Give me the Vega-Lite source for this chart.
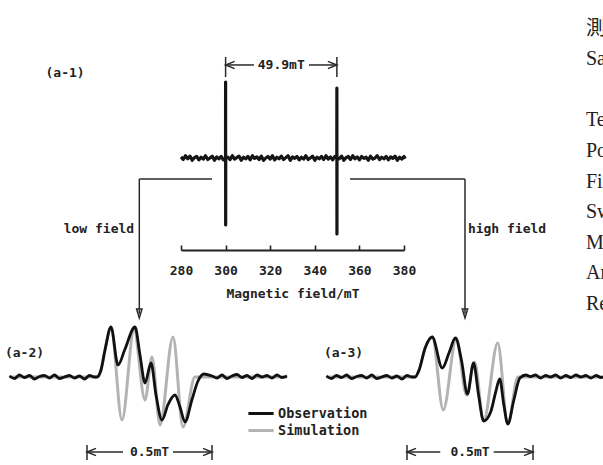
{
  "$schema": "https://vega.github.io/schema/vega-lite/v6.json",
  "width": 603,
  "height": 465,
  "autosize": {"type": "none"},
  "padding": 0,
  "background": "white",
  "config": {"view": {"stroke": null}},
  "datasets": {
    "top": [
      {"B":280,"I":1.5},{"B":281,"I":-2},{"B":282,"I":3},{"B":283,"I":-1},{"B":284,"I":2.5},{"B":285,"I":-3},{"B":286,"I":0.5},{"B":287,"I":2},{"B":288,"I":-2.5},{"B":289,"I":1},
      {"B":290,"I":-1.5},{"B":291,"I":3},{"B":292,"I":-2},{"B":293,"I":0},{"B":294,"I":2.5},{"B":295,"I":-3},{"B":296,"I":1.5},{"B":297,"I":-1},{"B":298,"I":2},{"B":299,"I":-2.5},
      {"B":299.97,"I":0},{"B":300,"I":100},{"B":300.03,"I":-88},{"B":300.06,"I":0},
      {"B":301,"I":1},{"B":302,"I":-2},{"B":303,"I":3},{"B":304,"I":-1.5},{"B":305,"I":0.5},{"B":306,"I":2.5},{"B":307,"I":-3},{"B":308,"I":1},{"B":309,"I":-1},{"B":310,"I":2},
      {"B":311,"I":-2.5},{"B":312,"I":3},{"B":313,"I":-0.5},{"B":314,"I":1.5},{"B":315,"I":-2},{"B":316,"I":2.5},{"B":317,"I":-3},{"B":318,"I":0},{"B":319,"I":2},{"B":320,"I":-1.5},
      {"B":321,"I":3},{"B":322,"I":-2.5},{"B":323,"I":1},{"B":324,"I":-1},{"B":325,"I":2.5},{"B":326,"I":-2},{"B":327,"I":0.5},{"B":328,"I":3},{"B":329,"I":-3},{"B":330,"I":1.5},
      {"B":331,"I":-0.5},{"B":332,"I":2},{"B":333,"I":-2.5},{"B":334,"I":1},{"B":335,"I":-1.5},{"B":336,"I":3},{"B":337,"I":-2},{"B":338,"I":0},{"B":339,"I":2.5},{"B":340,"I":-3},
      {"B":341,"I":1},{"B":342,"I":-1},{"B":343,"I":2},{"B":344,"I":-2},{"B":345,"I":3},{"B":346,"I":-1.5},{"B":347,"I":1.5},{"B":348,"I":-2.5},{"B":349,"I":2},
      {"B":349.87,"I":0},{"B":349.9,"I":92},{"B":349.93,"I":-100},{"B":349.96,"I":0},
      {"B":351,"I":-1},{"B":352,"I":2.5},{"B":353,"I":-3},{"B":354,"I":0.5},{"B":355,"I":2},{"B":356,"I":-2},{"B":357,"I":3},{"B":358,"I":-1},{"B":359,"I":1.5},{"B":360,"I":-2.5},
      {"B":361,"I":2},{"B":362,"I":-0.5},{"B":363,"I":1},{"B":364,"I":-3},{"B":365,"I":2.5},{"B":366,"I":-1.5},{"B":367,"I":0},{"B":368,"I":3},{"B":369,"I":-2},{"B":370,"I":1},
      {"B":371,"I":-1},{"B":372,"I":2},{"B":373,"I":-2.5},{"B":374,"I":1.5},{"B":375,"I":-0.5},{"B":376,"I":2.5},{"B":377,"I":-3},{"B":378,"I":1},{"B":379,"I":-1.5},{"B":380,"I":2},{"B":380.5,"I":-1}
    ],
    "topText": [
      {"B":228.0,"I":111.8,"label":"(a-1)"},
      {"B":324.95,"I":122.4,"label":"49.9mT"},
      {"B":243.2,"I":-93.4,"label":"low field"},
      {"B":426.2,"I":-93.4,"label":"high field"}
    ],
    "topRules": [
      {"x1":300,"x2":312.7,"y1":122.4,"y2":122.4},
      {"x1":337.4,"x2":349.9,"y1":122.4,"y2":122.4},
      {"x1":300,"x2":300,"y1":106.6,"y2":132.9},
      {"x1":349.9,"x2":349.9,"y1":106.6,"y2":132.9},
      {"x1":293.9,"x2":261.3,"y1":-27.6,"y2":-27.6},
      {"x1":261.3,"x2":261.3,"y1":-27.6,"y2":-205},
      {"x1":355.8,"x2":407.35,"y1":-27.6,"y2":-27.6},
      {"x1":407.35,"x2":407.35,"y1":-27.6,"y2":-205}
    ],
    "topHeads": [
      {"B":300,"I":122.4,"dir":"left"},
      {"B":349.9,"I":122.4,"dir":"right"},
      {"B":261.3,"I":-210.5,"dir":"down"},
      {"B":407.35,"I":-210.5,"dir":"down"}
    ],
    "lowObs": [
      {"B":299.44,"I":0.02},{"B":299.46,"I":-0.03},{"B":299.48,"I":0.04},{"B":299.5,"I":-0.01},{"B":299.52,"I":0.03},{"B":299.54,"I":-0.04},{"B":299.56,"I":0.01},{"B":299.58,"I":0.03},{"B":299.6,"I":-0.02},
      {"B":299.62,"I":0.04},{"B":299.64,"I":-0.03},{"B":299.66,"I":0.0},{"B":299.68,"I":0.03},{"B":299.7,"I":-0.02},{"B":299.72,"I":0.02},{"B":299.74,"I":-0.04},{"B":299.76,"I":0.03},{"B":299.78,"I":0.0},
      {"B":299.79,"I":0},{"B":299.806,"I":0.14},{"B":299.822,"I":0.54},{"B":299.846,"I":1.0},{"B":299.874,"I":0.24},{"B":299.902,"I":0.56},{"B":299.942,"I":1.0},{"B":299.962,"I":0.44},
      {"B":299.982,"I":-0.12},{"B":300.006,"I":0.28},{"B":300.026,"I":-0.36},{"B":300.05,"I":-0.86},{"B":300.074,"I":-0.55},{"B":300.102,"I":-0.36},{"B":300.122,"I":-0.6},{"B":300.142,"I":-0.9},
      {"B":300.17,"I":-0.45},{"B":300.194,"I":-0.08},{"B":300.218,"I":0.06},{"B":300.25,"I":0.02},
      {"B":300.27,"I":-0.02},{"B":300.29,"I":0.04},{"B":300.31,"I":-0.03},{"B":300.33,"I":0.02},{"B":300.35,"I":0.05},{"B":300.37,"I":-0.01},{"B":300.39,"I":0.03},{"B":300.41,"I":-0.03},
      {"B":300.43,"I":0.04},{"B":300.45,"I":0.0},{"B":300.47,"I":0.03},{"B":300.49,"I":-0.02},{"B":300.51,"I":0.04},{"B":300.53,"I":-0.01},{"B":300.55,"I":0.02}
    ],
    "lowSim": [
      {"B":299.44,"I":0},{"B":299.79,"I":0},{"B":299.806,"I":0.14},{"B":299.822,"I":0.54},{"B":299.846,"I":0.98},{"B":299.89,"I":-0.86},{"B":299.938,"I":0.94},
      {"B":299.982,"I":-0.46},{"B":300.01,"I":0.4},{"B":300.042,"I":-0.96},{"B":300.094,"I":0.8},{"B":300.134,"I":-1.0},{"B":300.182,"I":0},{"B":300.55,"I":0}
    ],
    "lowRules": [
      {"x1":299.75,"x2":299.894,"y1":-1.5,"y2":-1.5},
      {"x1":300.094,"x2":300.25,"y1":-1.5,"y2":-1.5},
      {"x1":299.75,"x2":299.75,"y1":-1.36,"y2":-1.66},
      {"x1":300.25,"x2":300.25,"y1":-1.36,"y2":-1.66}
    ],
    "lowHeads": [
      {"B":299.75,"I":-1.5,"dir":"left"},
      {"B":300.25,"I":-1.5,"dir":"right"}
    ],
    "lowText": [
      {"B":299.5,"I":0.48,"label":"(a-2)"},
      {"B":300.0,"I":-1.5,"label":"0.5mT"}
    ],
    "highObs": [
      {"B":349.33,"I":0.02},{"B":349.35,"I":-0.03},{"B":349.37,"I":0.03},{"B":349.39,"I":-0.01},{"B":349.41,"I":0.04},{"B":349.43,"I":-0.03},{"B":349.45,"I":0.01},{"B":349.47,"I":0.03},{"B":349.49,"I":-0.02},
      {"B":349.51,"I":0.04},{"B":349.53,"I":-0.03},{"B":349.55,"I":0.0},{"B":349.57,"I":0.03},{"B":349.59,"I":-0.02},{"B":349.61,"I":0.02},{"B":349.63,"I":-0.04},{"B":349.65,"I":0.03},{"B":349.67,"I":0.0},
      {"B":349.682,"I":0},{"B":349.698,"I":0.14},{"B":349.722,"I":0.58},{"B":349.75,"I":0.8},{"B":349.79,"I":0.18},{"B":349.818,"I":0.5},{"B":349.842,"I":0.78},{"B":349.866,"I":0.34},
      {"B":349.89,"I":-0.34},{"B":349.914,"I":0.28},{"B":349.934,"I":-0.36},{"B":349.954,"I":-0.88},{"B":349.982,"I":-0.7},{"B":350.002,"I":-0.3},{"B":350.018,"I":-0.04},{"B":350.034,"I":-0.55},
      {"B":350.05,"I":-0.94},{"B":350.074,"I":-0.46},{"B":350.098,"I":-0.02},{"B":350.122,"I":0.04},
      {"B":350.14,"I":0.01},{"B":350.16,"I":0.04},{"B":350.18,"I":-0.02},{"B":350.2,"I":0.03},{"B":350.22,"I":0.0},{"B":350.24,"I":0.04},{"B":350.26,"I":-0.02},{"B":350.28,"I":0.03},
      {"B":350.3,"I":-0.01},{"B":350.32,"I":0.04},{"B":350.34,"I":0.0},{"B":350.36,"I":0.03},{"B":350.38,"I":-0.02},{"B":350.4,"I":0.03},{"B":350.42,"I":-0.01},{"B":350.44,"I":0.02}
    ],
    "highSim": [
      {"B":349.33,"I":0},{"B":349.682,"I":0},{"B":349.698,"I":0.14},{"B":349.722,"I":0.58},{"B":349.75,"I":0.8},{"B":349.794,"I":-0.66},{"B":349.846,"I":0.78},
      {"B":349.886,"I":-0.36},{"B":349.918,"I":0.3},{"B":349.954,"I":-0.88},{"B":350.01,"I":0.68},{"B":350.05,"I":-0.94},{"B":350.09,"I":0},{"B":350.44,"I":0}
    ],
    "highRules": [
      {"x1":349.65,"x2":349.782,"y1":-1.5,"y2":-1.5},
      {"x1":349.994,"x2":350.15,"y1":-1.5,"y2":-1.5},
      {"x1":349.65,"x2":349.65,"y1":-1.36,"y2":-1.66},
      {"x1":350.15,"x2":350.15,"y1":-1.36,"y2":-1.66}
    ],
    "highHeads": [
      {"B":349.65,"I":-1.5,"dir":"left"},
      {"B":350.15,"I":-1.5,"dir":"right"}
    ],
    "highText": [
      {"B":349.398,"I":0.48,"label":"(a-3)"},
      {"B":349.9,"I":-1.5,"label":"0.5mT"}
    ],
    "conditions": [
      {"row":0,"col":0,"label":"測定条件"},
      {"row":1,"col":0,"label":"Sample:"},
      {"row":3,"col":0,"label":"Temperature:"},
      {"row":4,"col":0,"label":"Power:"},
      {"row":5,"col":0,"label":"Field:"},
      {"row":6,"col":0,"label":"Sweep width:"},
      {"row":7,"col":0,"label":"Modulation:"},
      {"row":8,"col":0,"label":"Amplitude:"},
      {"row":9,"col":0,"label":"Response:"}
    ]
  },
  "resolve": {
    "scale": {"x": "independent", "y": "independent"},
    "axis": {"x": "independent", "y": "independent"}
  },
  "layer": [
    {
      "data": {"name": "top"},
      "mark": {"type": "line", "color": "#151515", "strokeWidth": 3.2, "strokeJoin": "round"},
      "encoding": {
        "x": {"field": "B", "type": "quantitative", "scale": {"domain": [280, 380], "range": [181, 404]},
          "axis": {"values": [280, 300, 320, 340, 360, 380], "format": "d", "title": "Magnetic field/mT", "offset": -215, "grid": false,
            "domainColor": "#222", "domainWidth": 2, "tickColor": "#222", "tickWidth": 1.6, "tickSize": -5,
            "labelFont": "DejaVu Sans Mono", "labelFontWeight": "bold", "labelFontSize": 13, "labelColor": "#222", "labelPadding": 19,
            "labelFlush": false, "labelOverlap": false,
            "titleFont": "DejaVu Sans Mono", "titleFontWeight": "bold", "titleFontSize": 13, "titleColor": "#222", "titlePadding": 10}},
        "y": {"field": "I", "type": "quantitative", "scale": {"domain": [-100, 100], "range": [234, 82]}, "axis": null}
      }
    },
    {
      "data": {"name": "topRules"},
      "mark": {"type": "rule", "color": "#2a2a2a", "strokeWidth": 1.5},
      "encoding": {
        "x": {"field": "x1", "type": "quantitative", "scale": {"domain": [280, 380], "range": [181, 404]}, "axis": null},
        "x2": {"field": "x2"},
        "y": {"field": "y1", "type": "quantitative", "scale": {"domain": [-100, 100], "range": [234, 82]}, "axis": null},
        "y2": {"field": "y2"}
      }
    },
    {
      "data": {"name": "topHeads"},
      "mark": {"type": "point", "filled": false, "size": 324, "strokeWidth": 1.5, "color": "#2a2a2a", "opacity": 1},
      "encoding": {
        "x": {"field": "B", "type": "quantitative", "scale": {"domain": [280, 380], "range": [181, 404]}, "axis": null},
        "y": {"field": "I", "type": "quantitative", "scale": {"domain": [-100, 100], "range": [234, 82]}, "axis": null},
        "shape": {"field": "dir", "type": "nominal", "legend": null,
          "scale": {"domain": ["left", "right", "down"], "range": ["M1,-0.4L0,0L1,0.4", "M-1,-0.4L0,0L-1,0.4", "M-0.3,-1L0,0L0.3,-1Z"]}}
      }
    },
    {
      "data": {"name": "topText"},
      "mark": {"type": "text", "font": "DejaVu Sans Mono", "fontWeight": "bold", "fontSize": 13, "color": "#222", "align": "center", "baseline": "middle"},
      "encoding": {
        "x": {"field": "B", "type": "quantitative", "scale": {"domain": [280, 380], "range": [181, 404]}, "axis": null},
        "y": {"field": "I", "type": "quantitative", "scale": {"domain": [-100, 100], "range": [234, 82]}, "axis": null},
        "text": {"field": "label"}
      }
    },
    {
      "data": {"name": "lowSim"},
      "mark": {"type": "line", "strokeWidth": 3, "interpolate": "monotone"},
      "encoding": {
        "x": {"field": "B", "type": "quantitative", "scale": {"domain": [299.75, 300.25], "range": [87, 212]}, "axis": null},
        "y": {"field": "I", "type": "quantitative", "scale": {"domain": [-1, 1], "range": [427, 327]}, "axis": null},
        "color": {"datum": "Simulation", "type": "nominal",
          "scale": {"domain": ["Observation", "Simulation"], "range": ["#111111", "#b3b3b3"]},
          "legend": {"orient": "none", "legendX": 250.5, "legendY": 403, "title": null, "symbolType": "M-1.4,0L1.4,0", "symbolSize": 324, "symbolStrokeWidth": 3,
            "labelFont": "DejaVu Sans Mono", "labelFontWeight": "bold", "labelFontSize": 13.5, "labelColor": "#222", "labelOffset": 6.5, "rowPadding": 0, "padding": 0}}
      }
    },
    {
      "data": {"name": "lowObs"},
      "mark": {"type": "line", "strokeWidth": 2.8, "interpolate": "monotone"},
      "encoding": {
        "x": {"field": "B", "type": "quantitative", "scale": {"domain": [299.75, 300.25], "range": [87, 212]}, "axis": null},
        "y": {"field": "I", "type": "quantitative", "scale": {"domain": [-1, 1], "range": [427, 327]}, "axis": null},
        "color": {"datum": "Observation", "type": "nominal"}
      }
    },
    {
      "data": {"name": "lowRules"},
      "mark": {"type": "rule", "color": "#2a2a2a", "strokeWidth": 1.5},
      "encoding": {
        "x": {"field": "x1", "type": "quantitative", "scale": {"domain": [299.75, 300.25], "range": [87, 212]}, "axis": null},
        "x2": {"field": "x2"},
        "y": {"field": "y1", "type": "quantitative", "scale": {"domain": [-1, 1], "range": [427, 327]}, "axis": null},
        "y2": {"field": "y2"}
      }
    },
    {
      "data": {"name": "lowHeads"},
      "mark": {"type": "point", "filled": false, "size": 324, "strokeWidth": 1.5, "color": "#2a2a2a", "opacity": 1},
      "encoding": {
        "x": {"field": "B", "type": "quantitative", "scale": {"domain": [299.75, 300.25], "range": [87, 212]}, "axis": null},
        "y": {"field": "I", "type": "quantitative", "scale": {"domain": [-1, 1], "range": [427, 327]}, "axis": null},
        "shape": {"field": "dir", "type": "nominal", "legend": null}
      }
    },
    {
      "data": {"name": "lowText"},
      "mark": {"type": "text", "font": "DejaVu Sans Mono", "fontWeight": "bold", "fontSize": 13, "color": "#222", "align": "center", "baseline": "middle"},
      "encoding": {
        "x": {"field": "B", "type": "quantitative", "scale": {"domain": [299.75, 300.25], "range": [87, 212]}, "axis": null},
        "y": {"field": "I", "type": "quantitative", "scale": {"domain": [-1, 1], "range": [427, 327]}, "axis": null},
        "text": {"field": "label"}
      }
    },
    {
      "data": {"name": "highSim"},
      "mark": {"type": "line", "strokeWidth": 3, "interpolate": "monotone"},
      "encoding": {
        "x": {"field": "B", "type": "quantitative", "scale": {"domain": [349.65, 350.15], "range": [407, 533]}, "axis": null},
        "y": {"field": "I", "type": "quantitative", "scale": {"domain": [-1, 1], "range": [427, 327]}, "axis": null},
        "color": {"datum": "Simulation", "type": "nominal"}
      }
    },
    {
      "data": {"name": "highObs"},
      "mark": {"type": "line", "strokeWidth": 2.8, "interpolate": "monotone"},
      "encoding": {
        "x": {"field": "B", "type": "quantitative", "scale": {"domain": [349.65, 350.15], "range": [407, 533]}, "axis": null},
        "y": {"field": "I", "type": "quantitative", "scale": {"domain": [-1, 1], "range": [427, 327]}, "axis": null},
        "color": {"datum": "Observation", "type": "nominal"}
      }
    },
    {
      "data": {"name": "highRules"},
      "mark": {"type": "rule", "color": "#2a2a2a", "strokeWidth": 1.5},
      "encoding": {
        "x": {"field": "x1", "type": "quantitative", "scale": {"domain": [349.65, 350.15], "range": [407, 533]}, "axis": null},
        "x2": {"field": "x2"},
        "y": {"field": "y1", "type": "quantitative", "scale": {"domain": [-1, 1], "range": [427, 327]}, "axis": null},
        "y2": {"field": "y2"}
      }
    },
    {
      "data": {"name": "highHeads"},
      "mark": {"type": "point", "filled": false, "size": 324, "strokeWidth": 1.5, "color": "#2a2a2a", "opacity": 1},
      "encoding": {
        "x": {"field": "B", "type": "quantitative", "scale": {"domain": [349.65, 350.15], "range": [407, 533]}, "axis": null},
        "y": {"field": "I", "type": "quantitative", "scale": {"domain": [-1, 1], "range": [427, 327]}, "axis": null},
        "shape": {"field": "dir", "type": "nominal", "legend": null}
      }
    },
    {
      "data": {"name": "highText"},
      "mark": {"type": "text", "font": "DejaVu Sans Mono", "fontWeight": "bold", "fontSize": 13, "color": "#222", "align": "center", "baseline": "middle"},
      "encoding": {
        "x": {"field": "B", "type": "quantitative", "scale": {"domain": [349.65, 350.15], "range": [407, 533]}, "axis": null},
        "y": {"field": "I", "type": "quantitative", "scale": {"domain": [-1, 1], "range": [427, 327]}, "axis": null},
        "text": {"field": "label"}
      }
    },
    {
      "data": {"name": "conditions"},
      "mark": {"type": "text", "font": "Liberation Serif, Noto Sans CJK JP, serif", "fontSize": 20, "color": "#222", "align": "left", "baseline": "middle"},
      "encoding": {
        "x": {"field": "col", "type": "quantitative", "scale": {"domain": [0, 1], "range": [586, 700]}, "axis": null},
        "y": {"field": "row", "type": "quantitative", "scale": {"domain": [0, 9], "range": [28.9, 303.6]}, "axis": null},
        "text": {"field": "label"}
      }
    }
  ]
}
